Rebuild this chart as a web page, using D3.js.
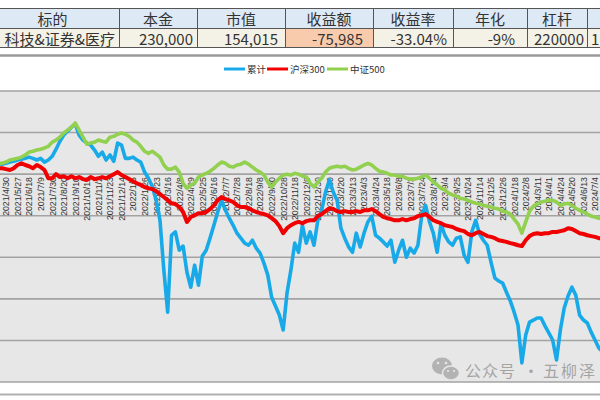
<!DOCTYPE html>
<html><head><meta charset="utf-8">
<script src="https://cdn.jsdelivr.net/npm/d3@7"></script>
<style>body{margin:0;background:#fff} svg{display:block}</style>
</head><body><svg id="c" width="600" height="400"></svg>
<script>
// ---------------- data ----------------
const headers = ["标的","本金","市值","收益额","收益率","年化","杠杆",""];
const rowValues = ["科技&证券&医疗","230,000","154,015","-75,985","-33.04%","-9%","220000","1"];
const seriesNames = ["累计","沪深300","中证500"];
const xLabels = ["2021/4/30","2021/5/27","2021/6/18","2021/7/9","2021/7/30","2021/8/20","2021/9/10","2021/10/12","2021/11/2","2021/11/23","2021/12/14","2022/1/5","2022/1/26","2022/2/23","2022/3/16","2022/4/8","2022/4/29","2022/5/25","2022/6/16","2022/7/7","2022/7/28","2022/8/18","2022/9/8","2022/9/30","2022/10/28","2022/11/18","2022/12/9","2022/12/30","2023/1/30","2023/2/20","2023/3/13","2023/4/3","2023/4/24","2023/5/18","2023/6/8","2023/7/3","2023/7/24","2023/8/14","2023/9/4","2023/9/25","2023/10/24","2023/11/14","2023/12/5","2023/12/26","2024/1/18","2024/2/8","2024/3/11","2024/4/1","2024/4/24","2024/5/20","2024/6/13","2024/7/4"];
// cumulative return in %, sampled every 5 trading days
const cumulative = [2.4,2.4,2.6,2.9,3.1,3.4,3.6,3.8,4.1,3.8,
3.4,3.8,2.9,3.4,4.3,6.0,7.9,9.4,10.3,11.3,
12.0,9.4,8.2,7.5,7.0,5.8,4.3,5.3,3.4,4.6,
3.1,7.5,7.0,3.8,3.8,4.1,3.4,2.9,0.5,-1.0,
-2.9,-6.3,-11.1,-23.1,-33.2,-14.7,-13.9,-18.3,-17.3,-23.6,
-27.2,-21.9,-26.7,-19.7,-18.3,-15.4,-12.3,-9.1,-6.3,-8.7,
-10.6,-12.3,-14.2,-15.4,-16.6,-17.1,-15.9,-17.8,-19.0,-21.4,
-24.3,-29.6,-31.7,-33.9,-37.5,-28.6,-23.1,-16.6,-18.8,-12.3,
-16.6,-13.9,-17.1,-11.1,-8.7,-4.3,-1.4,-4.3,-6.3,-13.0,
-15.4,-17.5,-18.8,-14.2,-17.5,-14.2,-11.5,-10.1,-14.7,-15.4,
-16.3,-17.3,-15.9,-21.2,-18.3,-15.9,-20.0,-17.8,-19.0,-17.1,
-9.9,-7.5,-11.5,-14.2,-18.8,-12.0,-14.7,-16.3,-17.1,-15.4,
-15.1,-19.5,-21.2,-13.9,-11.1,-14.4,-15.9,-17.1,-21.2,-25.0,
-25.7,-26.2,-28.4,-30.5,-33.2,-36.3,-45.4,-38.7,-35.6,-35.1,
-34.6,-34.6,-36.5,-38.2,-39.9,-44.7,-37.5,-32.2,-29.3,-27.2,
-29.1,-33.9,-35.1,-35.8,-38.0,-39.9,-41.8,-42.8];
const hs300 = [1.4,1.4,1.2,1.0,1.4,2.2,2.6,2.2,1.9,1.4,
2.2,1.7,1.0,-1.0,-1.0,0,-0.7,-0.5,-1.0,-0.5,
-1.0,-0.7,-1.2,-1.4,-0.7,-1.2,-1.0,-0.7,-1.0,-0.5,
0,0.5,-0.2,-0.7,-1.2,-1.7,-2.2,-2.6,-3.1,-3.4,
-3.6,-4.1,-4.8,-5.5,-6.3,-7.0,-7.2,-7.9,-9.1,-11.5,
-10.3,-9.9,-9.4,-9.4,-9.1,-8.4,-7.5,-6.3,-5.5,-6.0,
-6.3,-6.7,-7.5,-7.9,-7.9,-8.2,-8.7,-9.1,-9.4,-9.6,
-9.9,-10.6,-11.3,-12.5,-14.2,-13.0,-12.3,-11.8,-11.5,-11.8,
-11.3,-11.1,-11.1,-10.1,-9.6,-8.9,-8.2,-8.4,-8.9,-9.1,
-8.9,-9.1,-9.1,-8.9,-9.1,-8.7,-8.7,-8.4,-8.9,-9.6,
-10.3,-10.6,-10.8,-11.1,-11.1,-10.8,-11.1,-10.8,-10.6,-10.1,
-9.9,-9.6,-10.3,-11.1,-11.5,-11.8,-12.3,-12.5,-12.7,-13.2,
-13.5,-13.7,-14.4,-14.7,-14.2,-13.9,-14.4,-14.9,-15.1,-15.4,
-15.9,-16.1,-16.3,-16.6,-16.8,-17.1,-17.3,-15.9,-14.9,-14.4,
-14.2,-14.4,-14.2,-14.2,-13.9,-13.9,-13.7,-13.5,-13.0,-13.2,
-13.7,-14.2,-14.4,-14.7,-14.9,-15.1,-15.4,-15.4];
const csi500 = [2.6,2.6,2.9,3.4,3.6,3.8,4.1,4.6,5.3,5.5,
5.8,6.0,6.3,6.7,7.7,8.2,8.9,9.9,10.6,11.3,
12.3,10.6,8.9,7.2,7.5,7.7,8.2,7.9,7.7,8.9,
9.1,9.6,9.9,9.6,9.1,8.2,7.7,6.7,5.5,5.0,
5.5,4.8,4.1,2.2,1.2,1.2,1.7,0.5,-2.2,-3.4,
-2.6,-2.2,-0.7,-0.2,0.2,0.7,1.4,2.2,2.9,2.6,
1.9,1.7,2.2,2.4,2.9,2.4,1.7,1.0,0.5,-0.2,
-1.9,-3.1,-1.9,-1.0,-0.2,0,-0.2,0.2,0,-0.5,
-0.7,-2.2,-3.1,-1.9,-1.0,0.5,1.4,1.7,1.9,1.7,
1.9,1.4,1.0,1.2,1.7,2.2,2.6,2.2,1.4,0.7,
0.5,0.2,-0.2,-0.2,-0.5,-0.5,-1.0,-1.2,-1.2,-1.0,
-0.7,-0.2,-1.0,-1.9,-2.6,-3.4,-3.8,-4.6,-5.0,-5.3,
-5.8,-6.0,-6.3,-6.7,-7.0,-7.2,-7.5,-7.7,-7.9,-8.2,
-8.4,-8.9,-9.1,-9.6,-10.8,-12.0,-14.2,-11.5,-8.9,-7.7,
-7.2,-6.7,-6.5,-6.3,-6.3,-6.7,-7.5,-7.2,-7.0,-7.5,
-8.2,-8.7,-9.1,-9.6,-10.1,-10.3,-10.6,-10.8];
const yTicks = [-50,-40,-30,-20,-10,0,10,20];
const watermark = ["公众号","·","五柳泽"];

// ---------------- layout ----------------
const svg = d3.select("#c");
const W = 600;
const sampleStart = -10, sampleStep = 5, labelStep = 15;
const fontCJK = "'Noto Sans CJK SC','Noto Sans',sans-serif";

// table
const colEdges = [-10,119,197,285,373,453,527,587,650];
const rowTop = 8, rowMid = 28, rowBot = 47;
const tbl = svg.append("g");
headers.forEach((h,i)=>{
  tbl.append("rect").attr("x",colEdges[i]).attr("y",rowTop).attr("width",colEdges[i+1]-colEdges[i]).attr("height",rowMid-rowTop).attr("fill","#dde9f5");
  tbl.append("rect").attr("x",colEdges[i]).attr("y",rowMid).attr("width",colEdges[i+1]-colEdges[i]).attr("height",rowBot-rowMid).attr("fill", i===3 ? "#f9cbad" : "#f4f2e6");
  tbl.append("text").attr("x",(colEdges[i]+colEdges[i+1])/2 + (i===0?-2:0)).attr("y",18.5).attr("dominant-baseline","central")
    .attr("text-anchor","middle").attr("font-family",fontCJK).attr("font-size",15).attr("fill","#333").text(h);
});
const valAnchorX = [115,193,278,363,447,515,584,591];
rowValues.forEach((v,i)=>{
  tbl.append("text").attr("x",valAnchorX[i]).attr("y",38).attr("dominant-baseline","central")
    .attr("text-anchor", i===7 ? "start":"end").attr("font-family",fontCJK).attr("font-size",15).attr("fill","#333").text(v);
});
[rowTop,rowMid,rowBot].forEach(y=>tbl.append("line").attr("x1",0).attr("x2",W).attr("y1",y+0.5).attr("y2",y+0.5).attr("stroke","#555").attr("stroke-width",1));
colEdges.slice(1,8).forEach(x=>tbl.append("line").attr("x1",x+0.5).attr("x2",x+0.5).attr("y1",rowTop).attr("y2",rowBot).attr("stroke","#555").attr("stroke-width",1));

// chart frame lines
svg.append("line").attr("x1",0).attr("x2",W).attr("y1",55.5).attr("y2",55.5).attr("stroke","#9a9a9a").attr("stroke-width",2.5);
svg.append("line").attr("x1",0).attr("x2",W).attr("y1",394.5).attr("y2",394.5).attr("stroke","#b0b0b0").attr("stroke-width",2);

// scales
const plotTop = 91, plotBot = 382;
const x = d3.scaleLinear().domain([0, (xLabels.length-1)*labelStep]).range([6, 595]);
const y = d3.scaleLinear().domain([-50, 20]).range([plotBot, plotTop]);

svg.append("rect").attr("x",0).attr("y",plotTop).attr("width",W).attr("height",plotBot-plotTop).attr("fill","#e7e7e7");
svg.append("g").selectAll("line").data(yTicks).join("line")
  .attr("x1",0).attr("x2",W).attr("y1",d=>y(d)).attr("y2",d=>y(d))
  .attr("stroke","#a3a3a3").attr("stroke-width",1.6);

// x axis labels (crossing at 0)
const axisY = y(0);
const xa = svg.append("g").attr("transform",`translate(0,${axisY+3})`)
  .call(d3.axisBottom(x).tickValues(xLabels.map((d,i)=>i*labelStep)).tickFormat((d,i)=>xLabels[i]).tickSize(0));
xa.select(".domain").remove();
xa.selectAll("text").attr("font-family","'Liberation Sans',Arial,sans-serif").attr("font-size",8.7).attr("fill","#333")
  .attr("transform","rotate(-90)").attr("text-anchor","end").attr("x",0).attr("y",0).attr("dy","0.33em");

// lines
svg.append("clipPath").attr("id","pc").append("rect").attr("x",0).attr("y",plotTop).attr("width",W).attr("height",plotBot-plotTop);
const line = d3.line().x((d,i)=>x(sampleStart+i*sampleStep)).y(d=>y(d)).curve(d3.curveLinear);
const series = [
  {name:seriesNames[0], data:cumulative, color:"#18aae8", w:3.6},
  {name:seriesNames[1], data:hs300, color:"#f00000", w:4},
  {name:seriesNames[2], data:csi500, color:"#92d050", w:3.6}
];
const lg = svg.append("g").attr("clip-path","url(#pc)");
series.forEach(s=>{
  lg.append("path").attr("d",line(s.data)).attr("fill","none").attr("stroke",s.color)
    .attr("stroke-width",s.w).attr("stroke-linejoin","round").attr("stroke-linecap","round");
});

// legend
const legX = [224,267,327];
const leg = svg.append("g");
series.forEach((s,i)=>{
  leg.append("line").attr("x1",legX[i]).attr("x2",legX[i]+21).attr("y1",69).attr("y2",69).attr("stroke",s.color).attr("stroke-width",3);
  leg.append("text").attr("x",legX[i]+23).attr("y",69).attr("dominant-baseline","central")
    .attr("font-family",fontCJK).attr("font-size",9.5).attr("fill","#333").text(s.name);
});

// watermark
const wm = svg.append("g").attr("opacity",0.55);
wm.append("ellipse").attr("cx",442).attr("cy",366).attr("rx",10).attr("ry",8.5).attr("fill","#8a8a8a");
wm.append("ellipse").attr("cx",451).attr("cy",373).attr("rx",8.5).attr("ry",7).attr("fill","#8a8a8a").attr("stroke","#e7e7e7").attr("stroke-width",1.5);
[[438,363],[446,363]].forEach(p=>wm.append("circle").attr("cx",p[0]).attr("cy",p[1]).attr("r",1.3).attr("fill","#e7e7e7"));
[[448,371],[454,371]].forEach(p=>wm.append("circle").attr("cx",p[0]).attr("cy",p[1]).attr("r",1.1).attr("fill","#e7e7e7"));
const wmX = [465,523,543];
watermark.forEach((t,i)=>wm.append("text").attr("x",wmX[i]).attr("y",370).attr("dominant-baseline","central").attr("font-family",fontCJK)
  .attr("font-size",16).attr("letter-spacing",i===2?2:1).attr("fill","#6e6e6e").text(t));
</script></body></html>
